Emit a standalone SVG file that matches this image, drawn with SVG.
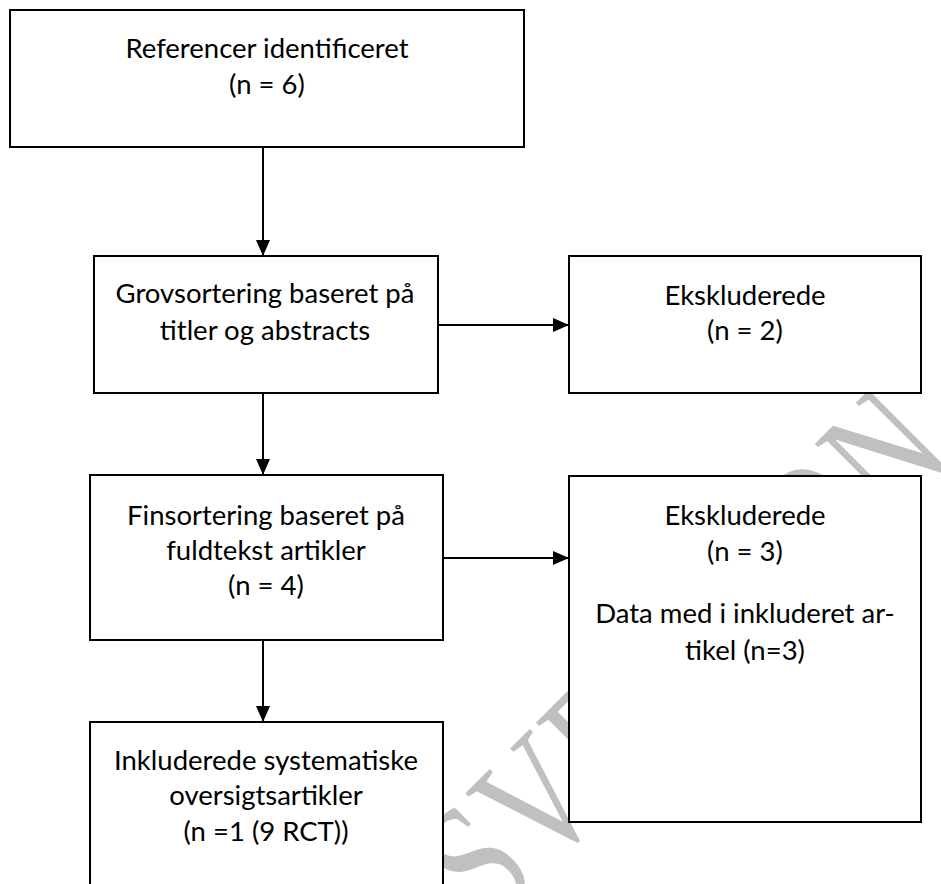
<svg xmlns="http://www.w3.org/2000/svg" width="941" height="884" viewBox="0 0 941 884">
  <style>
    .box { fill: #ffffff; stroke: #000000; stroke-width: 2; }
    .lbl { font-family: Lato, "Open Sans", "Liberation Sans", sans-serif; font-size: 27.5px; fill: #000000; text-anchor: middle; }
    .edge { stroke: #000000; stroke-width: 2; fill: none; marker-end: url(#head); }
    .wm { font-family: "Liberation Serif", "DejaVu Serif", serif; font-size: 171px; fill: #c0c0c0; letter-spacing: 4.9px; }
  </style>
  <defs>
    <marker id="head" viewBox="0 0 16 14" refX="16" refY="7" markerWidth="16" markerHeight="14" markerUnits="userSpaceOnUse" orient="auto">
      <path d="M0,0 L16,7 L0,14 Z" fill="#000000"/>
    </marker>
  </defs>

  <rect width="941" height="884" fill="#ffffff"/>

  <!-- diagonal draft watermark, condensed horizontally, behind the chart -->
  <text class="wm" transform="translate(116.7,1300.3) rotate(-45) scale(0.76,1)">HØRINGSVERSION</text>

  <g id="connectors">
    <line class="edge" x1="263" y1="147" x2="263" y2="256"/>
    <line class="edge" x1="438" y1="325" x2="569" y2="325"/>
    <line class="edge" x1="263" y1="393" x2="263" y2="475"/>
    <line class="edge" x1="443" y1="558" x2="569" y2="558"/>
    <line class="edge" x1="263" y1="640" x2="263" y2="722"/>
  </g>

  <g id="identified">
    <rect class="box" x="10" y="10" width="514" height="137"/>
    <text class="lbl" x="267" y="58">Referencer identificeret</text>
    <text class="lbl" x="267" y="94">(n = 6)</text>
  </g>

  <g id="screening-titles">
    <rect class="box" x="94" y="256" width="344" height="137"/>
    <text class="lbl" x="265" y="303">Grovsortering baseret på</text>
    <text class="lbl" x="265" y="340">titler og abstracts</text>
  </g>

  <g id="excluded-titles">
    <rect class="box" x="569" y="256" width="352" height="137"/>
    <text class="lbl" x="745" y="305">Ekskluderede</text>
    <text class="lbl" x="745" y="340">(n = 2)</text>
  </g>

  <g id="screening-fulltext">
    <rect class="box" x="90" y="475" width="353" height="165"/>
    <text class="lbl" x="266" y="525">Finsortering baseret på</text>
    <text class="lbl" x="266" y="560">fuldtekst artikler</text>
    <text class="lbl" x="266" y="595">(n = 4)</text>
  </g>

  <g id="excluded-fulltext">
    <rect class="box" x="569" y="476" width="352" height="346"/>
    <text class="lbl" x="745" y="525">Ekskluderede</text>
    <text class="lbl" x="745" y="561">(n = 3)</text>
    <text class="lbl" x="745" y="623">Data med i inkluderet ar-</text>
    <text class="lbl" x="745" y="660">tikel (n=3)</text>
  </g>

  <g id="included">
    <rect class="box" x="90" y="722" width="353" height="200"/>
    <text class="lbl" x="266" y="770">Inkluderede systematiske</text>
    <text class="lbl" x="266" y="805">oversigtsartikler</text>
    <text class="lbl" x="266" y="841">(n =1 (9 RCT))</text>
  </g>
</svg>
